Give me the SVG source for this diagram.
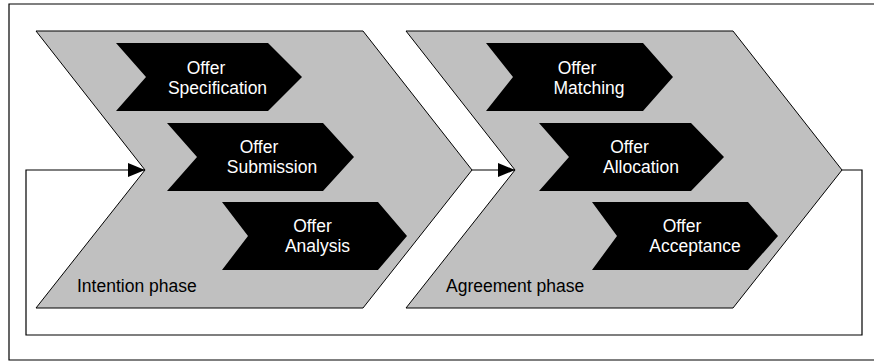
<svg xmlns="http://www.w3.org/2000/svg" width="874" height="362" viewBox="0 0 874 362">
<style>
.frame{fill:none;stroke:#000;stroke-width:1.2}
.phase{fill:#c0c0c0;stroke:#000;stroke-width:1}
.step{fill:#000;stroke:none}
.lbl{font-family:"Liberation Sans",Arial,sans-serif;font-size:17.5px;fill:#fff;text-anchor:middle}
.plbl{font-family:"Liberation Sans",Arial,sans-serif;font-size:17.5px;fill:#000}
.conn{fill:none;stroke:#000;stroke-width:1.2}
</style>
<defs>
<marker id="ah" markerUnits="userSpaceOnUse" markerWidth="18" markerHeight="16" refX="17" refY="8" orient="auto">
<path d="M0,1 L17,8 L0,15 Z" fill="#000"/>
</marker>
</defs>
<rect width="874" height="362" fill="#fff"/>
<path class="frame" d="M874,4 H9 V360 H874"/>
<g id="intention-phase">
<polygon class="phase" points="36,31 363,31 472,170 363,308 36,308 145,170"/>
<text class="plbl" x="77" y="292">Intention phase</text>
</g>
<g id="agreement-phase">
<polygon class="phase" points="406,31 733,31 842,170 733,308 406,308 515,170"/>
<text class="plbl" x="446" y="292">Agreement phase</text>
</g>
<g id="offer-specification">
<polygon class="step" points="116,43 268,43 302,77 268,111 116,111 146,77"/>
<text class="lbl"><tspan x="206" y="73.5">Offer</tspan><tspan x="217.5" y="93.5">Specification</tspan></text>
</g>
<g id="offer-submission">
<polygon class="step" points="167,123 323,123 354,157 323,191 167,191 197,157"/>
<text class="lbl"><tspan x="259" y="153">Offer</tspan><tspan x="272" y="173">Submission</tspan></text>
</g>
<g id="offer-analysis">
<polygon class="step" points="222,202 378,202 407,236 378,270 222,270 248,236"/>
<text class="lbl"><tspan x="312.5" y="232">Offer</tspan><tspan x="317.5" y="252">Analysis</tspan></text>
</g>
<g id="offer-matching">
<polygon class="step" points="486,43 643,43 673,77 643,111 486,111 513,77"/>
<text class="lbl"><tspan x="577" y="73.5">Offer</tspan><tspan x="589" y="93.5">Matching</tspan></text>
</g>
<g id="offer-allocation">
<polygon class="step" points="539,123 691,123 724,157 691,191 539,191 569,157"/>
<text class="lbl"><tspan x="629.5" y="153">Offer</tspan><tspan x="641" y="173">Allocation</tspan></text>
</g>
<g id="offer-acceptance">
<polygon class="step" points="592,202 748,202 778,236 748,270 592,270 617,236"/>
<text class="lbl"><tspan x="682" y="232">Offer</tspan><tspan x="695" y="252">Acceptance</tspan></text>
</g>
<g id="connectors">
<path class="conn" d="M472,170 H515" marker-end="url(#ah)"/>
<path class="conn" d="M842,170 H862 V335 H26 V170 H145" marker-end="url(#ah)"/>
</g>
</svg>
